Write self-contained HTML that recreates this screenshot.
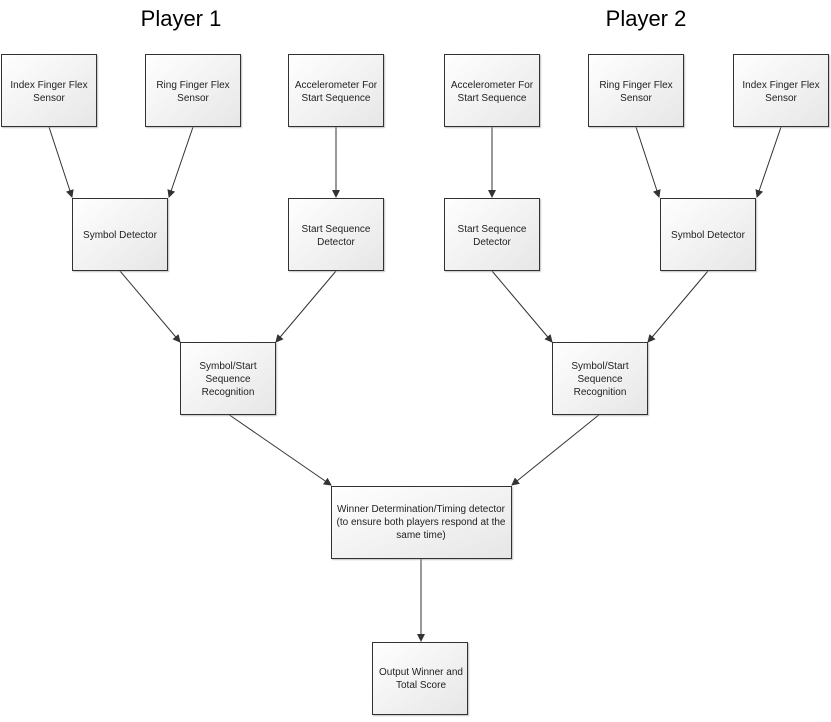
<!DOCTYPE html>
<html><head><style>
body{margin:0;background:#fff;}
svg text{font-family:"Liberation Sans",sans-serif;font-size:10px;fill:#222;text-anchor:middle;}
svg text.t{font-size:22px;fill:#000;}
</style></head><body>
<svg width="831" height="717" viewBox="0 0 831 717" xmlns="http://www.w3.org/2000/svg">
<defs>
<linearGradient id="g" x1="0" y1="0" x2="1" y2="1"><stop offset="0" stop-color="#ffffff"/><stop offset="1" stop-color="#e6e6e6"/></linearGradient>
<marker id="a" markerWidth="8" markerHeight="8" refX="7" refY="4" orient="auto" markerUnits="userSpaceOnUse"><path d="M0,0 L8,4 L0,8 z" fill="#333"/></marker>
<filter id="s"><feDropShadow dx="1" dy="1" stdDeviation="0.6" flood-color="#999" flood-opacity="0.6"/></filter>
</defs>
<text class="t" x="181" y="26">Player 1</text>
<text class="t" x="646" y="26">Player 2</text>
<g stroke="#333" stroke-width="1" fill="none" marker-end="url(#a)">
<line x1="49" y1="127" x2="72" y2="197"/>
<line x1="193" y1="127" x2="169" y2="197"/>
<line x1="336" y1="127" x2="336" y2="197"/>
<line x1="492" y1="127" x2="492" y2="197"/>
<line x1="636" y1="127" x2="659" y2="197"/>
<line x1="781" y1="127" x2="757" y2="197"/>
<line x1="120" y1="271" x2="180" y2="342"/>
<line x1="336" y1="271" x2="276" y2="342"/>
<line x1="492" y1="271" x2="552" y2="342"/>
<line x1="708" y1="271" x2="648" y2="342"/>
<line x1="228" y1="414" x2="331" y2="485"/>
<line x1="600" y1="414" x2="512" y2="485"/>
<line x1="421" y1="558" x2="421" y2="641"/>
</g>
<g fill="url(#g)" stroke="#333" stroke-width="1" filter="url(#s)">
<rect x="1.5" y="54.5" width="95" height="72"/>
<rect x="145.5" y="54.5" width="95" height="72"/>
<rect x="288.5" y="54.5" width="95" height="72"/>
<rect x="444.5" y="54.5" width="95" height="72"/>
<rect x="588.5" y="54.5" width="95" height="72"/>
<rect x="733.5" y="54.5" width="95" height="72"/>
<rect x="72.5" y="198.5" width="95" height="72"/>
<rect x="288.5" y="198.5" width="95" height="72"/>
<rect x="444.5" y="198.5" width="95" height="72"/>
<rect x="660.5" y="198.5" width="95" height="72"/>
<rect x="180.5" y="342.5" width="95" height="72"/>
<rect x="552.5" y="342.5" width="95" height="72"/>
<rect x="331.5" y="486.5" width="180" height="72"/>
<rect x="372.5" y="642.5" width="95" height="72"/>
</g>
<text x="49" y="88">Index Finger Flex</text><text x="49" y="101">Sensor</text>
<text x="193" y="88">Ring Finger Flex</text><text x="193" y="101">Sensor</text>
<text x="336" y="88">Accelerometer For</text><text x="336" y="101">Start Sequence</text>
<text x="492" y="88">Accelerometer For</text><text x="492" y="101">Start Sequence</text>
<text x="636" y="88">Ring Finger Flex</text><text x="636" y="101">Sensor</text>
<text x="781" y="88">Index Finger Flex</text><text x="781" y="101">Sensor</text>
<text x="120" y="238">Symbol Detector</text>
<text x="336" y="232">Start Sequence</text><text x="336" y="245">Detector</text>
<text x="492" y="232">Start Sequence</text><text x="492" y="245">Detector</text>
<text x="708" y="238">Symbol Detector</text>
<text x="228" y="369">Symbol/Start</text><text x="228" y="382">Sequence</text><text x="228" y="395">Recognition</text>
<text x="600" y="369">Symbol/Start</text><text x="600" y="382">Sequence</text><text x="600" y="395">Recognition</text>
<text x="421" y="512">Winner Determination/Timing detector</text>
<text x="421" y="525">(to ensure both players respond at the</text>
<text x="421" y="538">same time)</text>
<text x="421" y="675">Output Winner and</text><text x="421" y="688">Total Score</text>
</svg>
</body></html>
